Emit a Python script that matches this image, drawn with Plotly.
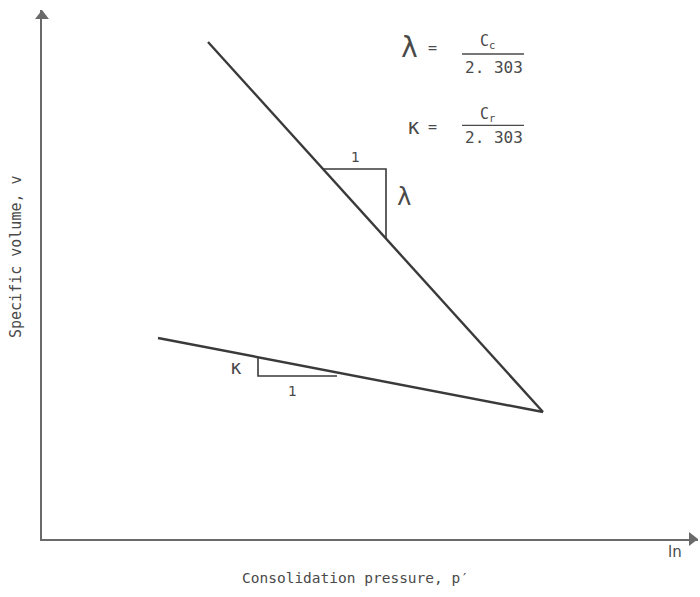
import numpy as np
import plotly.graph_objects as go

# Normal consolidation line (NCL) and unloading-reloading line (URL), ln p' vs v
ncl_lnp = [3.32, 10.02]
ncl_v = [3.485, 1.635]
url_lnp = [2.32, 10.02]
url_v = [2.005, 1.635]

# Slope triangles: horizontal levels / vertical positions (ln p', v)
lam_tri_v = 2.85      # top edge of the lambda triangle
lam_tri_lnp = 6.88    # vertical edge of the lambda triangle
kap_tri_lnp = 4.32    # vertical edge of the kappa triangle
kap_tri_v = 1.815     # bottom edge of the kappa triangle
kap_tri_end = 5.9     # end of the kappa triangle's base

X_MAX = 13.12
Y_MIN, Y_MAX = 1.0, 3.645

LINE_COL = "#3a3a3a"
AXIS_COL = "#6a6a6a"
TEXT_COL = "#4a4a4a"
FONT = "DejaVu Sans Mono"
FONT_SANS = "DejaVu Sans"


def on_line(xs, ys, x):
    return float(np.interp(x, xs, ys))


def lnp_at(xs, ys, v):
    # lines decrease in v, so reverse for interpolation
    return float(np.interp(v, ys[::-1], xs[::-1]))


fig = go.Figure()

# main lines
fig.add_trace(go.Scatter(x=ncl_lnp, y=ncl_v, mode="lines",
                         line=dict(color=LINE_COL, width=2.4), hoverinfo="skip"))
fig.add_trace(go.Scatter(x=url_lnp, y=url_v, mode="lines",
                         line=dict(color=LINE_COL, width=2.4), hoverinfo="skip"))

# lambda triangle
lam_x0 = lnp_at(ncl_lnp, ncl_v, lam_tri_v)
lam_y1 = on_line(ncl_lnp, ncl_v, lam_tri_lnp)
fig.add_trace(go.Scatter(x=[lam_x0, lam_tri_lnp, lam_tri_lnp],
                         y=[lam_tri_v, lam_tri_v, lam_y1], mode="lines",
                         line=dict(color=LINE_COL, width=1.6), hoverinfo="skip"))

# kappa triangle
kap_y0 = on_line(url_lnp, url_v, kap_tri_lnp)
fig.add_trace(go.Scatter(x=[kap_tri_lnp, kap_tri_lnp, kap_tri_end],
                         y=[kap_y0, kap_tri_v, kap_tri_v], mode="lines",
                         line=dict(color=LINE_COL, width=1.6), hoverinfo="skip"))

# axis arrowheads
fig.add_trace(go.Scatter(x=[0], y=[Y_MAX - 0.03], mode="markers",
                         marker=dict(symbol="triangle-up", size=12, color=AXIS_COL),
                         cliponaxis=False, hoverinfo="skip"))
fig.add_trace(go.Scatter(x=[X_MAX - 0.12], y=[Y_MIN], mode="markers",
                         marker=dict(symbol="triangle-right", size=12, color=AXIS_COL),
                         cliponaxis=False, hoverinfo="skip"))

ann = []


def txt(x, y, s, size=14, family=FONT, **kw):
    d = dict(x=x, y=y, text=s, showarrow=False,
             font=dict(family=family, size=size, color=TEXT_COL))
    d.update(kw)
    ann.append(d)


# triangle labels
txt(6.26, 2.91, "1", 14, FONT_SANS)
txt(7.24, 2.71, "λ", 24)
txt(3.88, 1.86, "κ", 19)
txt(5.0, 1.74, "1", 14, FONT_SANS)

# formulas
txt(7.34, 3.46, "λ", 28)
txt(7.8, 3.455, "=", 15)
txt(8.9, 3.49, "C<sub>c</sub>", 15)
txt(9.03, 3.36, "2. 303", 16)
txt(7.42, 3.06, "κ", 21)
txt(7.8, 3.06, "=", 15)
txt(8.9, 3.125, "C<sub>r</sub>", 15)
txt(9.03, 3.01, "2. 303", 16)

# axis titles
txt(12.66, 0, "ln", 15, FONT_SANS, yref="paper", yanchor="top", yshift=-2)
txt(6.26, 0, "Consolidation pressure, p′", 14.5, yref="paper", yanchor="top", yshift=-29)
txt(0, 2.41, "Specific volume, v", 15, xref="paper", textangle=-90, xshift=-37)

shapes = [
    dict(type="line", x0=8.4, x1=9.64, y0=3.425, y1=3.425,
         line=dict(color=TEXT_COL, width=1.3)),
    dict(type="line", x0=8.4, x1=9.64, y0=3.068, y1=3.068,
         line=dict(color=TEXT_COL, width=1.3)),
]

fig.update_layout(
    width=700, height=597,
    margin=dict(l=42, r=2, t=10, b=58),
    paper_bgcolor="white", plot_bgcolor="white",
    showlegend=False,
    annotations=ann, shapes=shapes,
    xaxis=dict(range=[0, X_MAX], showgrid=False, zeroline=False,
               showticklabels=False, ticks="", showline=True,
               linecolor=AXIS_COL, linewidth=2),
    yaxis=dict(range=[Y_MIN, Y_MAX], showgrid=False, zeroline=False,
               showticklabels=False, ticks="", showline=True,
               linecolor=AXIS_COL, linewidth=2),
)

fig.write_html("out.html")
